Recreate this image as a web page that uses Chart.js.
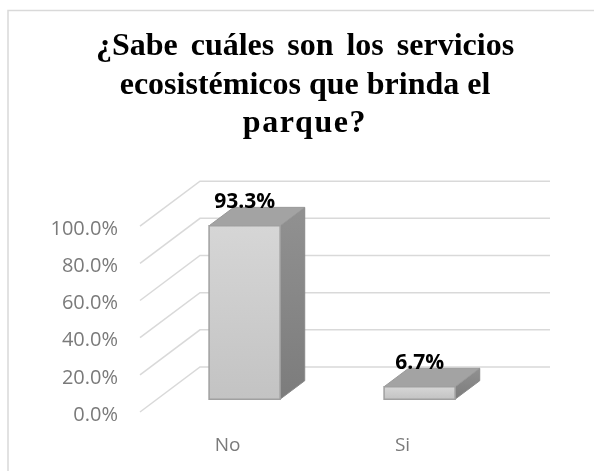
<!DOCTYPE html>
<html>
<head>
<meta charset="utf-8">
<script src="https://cdn.jsdelivr.net/npm/chart.js@4"></script>
<style>
  html, body { margin: 0; padding: 0; background: #ffffff; }
  #wrap { width: 594px; height: 471px; position: relative; }
</style>
</head>
<body>
<div id="wrap"><canvas id="c" width="594" height="471"></canvas></div>
<script>
// ---- data ----
const titleLines = ['¿Sabe cuáles son los servicios', 'ecosistémicos que brinda el', 'parque?'];
const categories = ['No', 'Si'];
const values = [0.933, 0.067];
const yMin = 0;
const yMax = 1;
const yStep = 0.2;

function pct(v) { return (v * 100).toFixed(1) + '%'; }

// ---- 3D styling constants ----
const DEPTH_X = 60, DEPTH_Y = -45;      // full floor depth
const BAR_F0 = 0.285, BAR_FD = 0.41;    // bar front position / bar depth (fractions)
const GRID = '#d9d9d9';
// per-line spacing of the (justified) title
const titleSpacing = [{ word: '5px', letter: '0px' }, { word: '0px', letter: '0px' }, { word: '0px', letter: '1.6px' }];

const threeD = {
  id: 'threeD',
  afterLayout(chart) {
    const t = chart.titleBlock;
    if (t) { t.left = 16; t.right = 594; }
  },
  beforeDraw(chart) {
    const ctx = chart.ctx;
    if (!ctx.__patched) {
      const orig = ctx.fillText.bind(ctx);
      ctx.fillText = function (text, x, y, mw) {
        const idx = titleLines.indexOf(text);
        const f = ctx.font;
        if (idx >= 0) {
          const sp = titleSpacing[idx];
          ctx.wordSpacing = sp.word; ctx.letterSpacing = sp.letter; ctx.font = f;
          orig(text, x, y);
          ctx.wordSpacing = '0px'; ctx.letterSpacing = '0px'; ctx.font = f;
        } else {
          ctx.wordSpacing = '0px'; ctx.letterSpacing = '0px';
          if (mw === undefined) orig(text, x, y); else orig(text, x, y, mw);
        }
      };
      ctx.__patched = true;
    }
    ctx.save();
    ctx.fillStyle = '#ffffff';
    ctx.fillRect(0, 0, chart.width, chart.height);
    ctx.strokeStyle = '#d9d9d9';
    ctx.lineWidth = 1.5;
    ctx.beginPath();
    ctx.moveTo(8, chart.height);
    ctx.lineTo(8, 10.5);
    ctx.lineTo(chart.width, 10.5);
    ctx.stroke();
    ctx.restore();
  },
  beforeDatasetsDraw(chart) {
    const ctx = chart.ctx;
    const ys = chart.scales.y;
    const { left, right } = chart.chartArea;
    ctx.save();
    ctx.strokeStyle = GRID;
    ctx.lineWidth = 1.5;
    ys.ticks.forEach(t => {
      const py = ys.getPixelForValue(t.value);
      ctx.beginPath();
      ctx.moveTo(left, py);
      ctx.lineTo(left + DEPTH_X, py + DEPTH_Y);
      ctx.lineTo(right + DEPTH_X, py + DEPTH_Y);
      ctx.stroke();
    });
    ctx.restore();
  },
  afterDatasetsDraw(chart) {
    const ctx = chart.ctx;
    const meta = chart.getDatasetMeta(0);
    const ox = DEPTH_X * BAR_F0, oy = DEPTH_Y * BAR_F0;
    const dx = DEPTH_X * BAR_FD, dy = DEPTH_Y * BAR_FD;
    ctx.save();
    meta.data.forEach((bar, i) => {
      const p = bar.getProps(['x', 'y', 'base', 'width'], true);
      const xl = p.x - p.width / 2 + ox, xr = p.x + p.width / 2 + ox;
      const yt = p.y + oy, yb = p.base + oy;
      // side face
      let g = ctx.createLinearGradient(0, yt + dy, 0, yb);
      g.addColorStop(0, '#919191');
      g.addColorStop(1, '#7c7c7c');
      ctx.fillStyle = g;
      ctx.strokeStyle = '#8a8a8a';
      ctx.lineWidth = 1;
      ctx.beginPath();
      ctx.moveTo(xr, yt); ctx.lineTo(xr + dx, yt + dy); ctx.lineTo(xr + dx, yb + dy); ctx.lineTo(xr, yb); ctx.closePath();
      ctx.fill(); ctx.stroke();
      // top face
      ctx.fillStyle = '#a3a3a3';
      ctx.strokeStyle = '#999999';
      ctx.beginPath();
      ctx.moveTo(xl, yt); ctx.lineTo(xr, yt); ctx.lineTo(xr + dx, yt + dy); ctx.lineTo(xl + dx, yt + dy); ctx.closePath();
      ctx.fill(); ctx.stroke();
      // front face
      g = ctx.createLinearGradient(0, yt, 0, yb);
      g.addColorStop(0, '#d6d6d6');
      g.addColorStop(1, '#c3c3c3');
      ctx.fillStyle = g;
      ctx.strokeStyle = '#a0a0a0';
      ctx.lineWidth = 1.5;
      ctx.beginPath();
      ctx.rect(xl, yt, xr - xl, yb - yt);
      ctx.fill(); ctx.stroke();
      // data label
      ctx.fillStyle = '#000000';
      ctx.font = 'bold 21px "Open Sans", sans-serif';
      ctx.textAlign = 'center';
      ctx.textBaseline = 'middle';
      ctx.fillText(pct(values[i]), (xl + xr) / 2, yt - 24);
    });
    ctx.restore();
  }
};

new Chart(document.getElementById('c'), {
  type: 'bar',
  data: {
    labels: categories,
    datasets: [{
      data: values,
      backgroundColor: 'rgba(0,0,0,0)',
      borderWidth: 0,
      categoryPercentage: 1,
      barPercentage: 0.406
    }]
  },
  options: {
    responsive: false,
    animation: false,
    devicePixelRatio: 1,
    layout: { padding: { left: 40, right: 104, top: 0, bottom: 0 } },
    plugins: {
      legend: { display: false },
      tooltip: { enabled: false },
      title: {
        display: true,
        text: titleLines,
        color: '#000000',
        font: { family: '"Liberation Serif", "Times New Roman", serif', size: 32, weight: 'bold', lineHeight: 1.2 },
        padding: { top: 28, bottom: 83 }
      }
    },
    scales: {
      x: {
        grid: { display: false, drawTicks: false },
        border: { display: false },
        afterFit(scale) { scale.height = 59; },
        ticks: {
          color: '#7a7a7a',
          padding: 22,
          font: { family: '"Open Sans", sans-serif', size: 19 }
        }
      },
      y: {
        min: yMin,
        max: yMax,
        grid: { display: false, drawTicks: false },
        border: { display: false },
        afterFit(scale) { scale.width = 100; },
        ticks: {
          stepSize: yStep,
          color: '#7a7a7a',
          padding: 22,
          labelOffset: 3,
          font: { family: '"Open Sans", sans-serif', size: 20 },
          callback: (v) => pct(v)
        }
      }
    }
  },
  plugins: [threeD]
});
</script>
</body>
</html>
